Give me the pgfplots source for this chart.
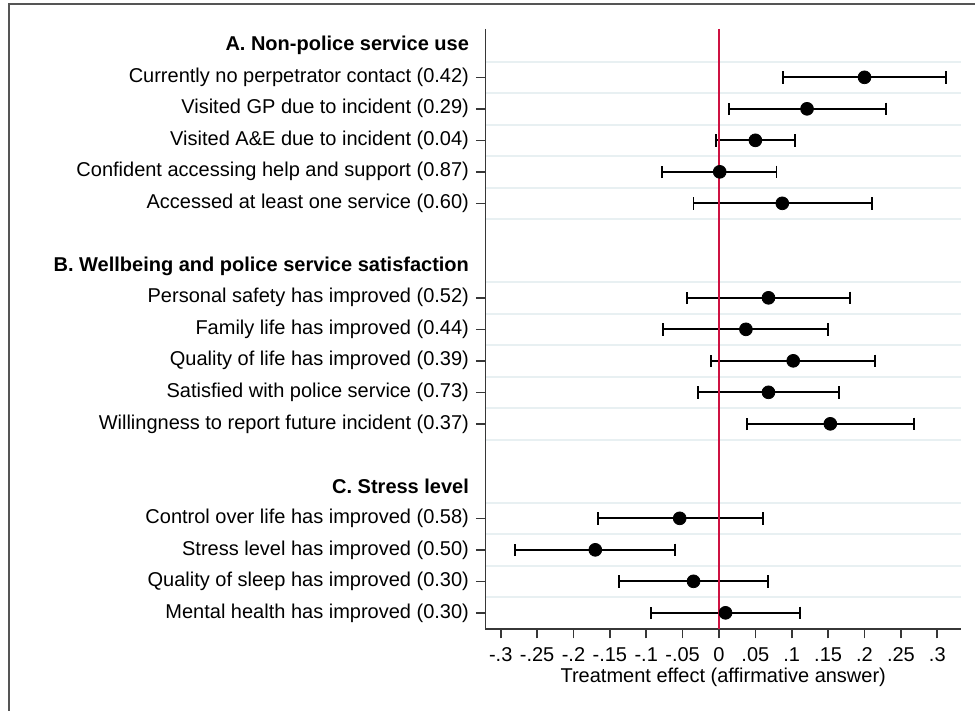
\documentclass[border=0pt]{standalone}
\usepackage{fontspec}
\setmainfont{Liberation Sans}
\usepackage{pgfplots}
\pgfplotsset{compat=1.18}
\usepackage{pgfplotstable}
\definecolor{gridc}{RGB}{232,240,242}
\definecolor{redl}{RGB}{206,17,65}
\definecolor{axc}{RGB}{55,55,55}
\definecolor{framec}{RGB}{85,85,85}

\pgfplotstableread{
idx coef lo hi
2 0.200 0.088 0.312
3 0.121 0.014 0.229
4 0.050 -0.004 0.105
5 0.001 -0.078 0.079
6 0.087 -0.035 0.210
9 0.068 -0.044 0.180
10 0.037 -0.077 0.150
11 0.102 -0.011 0.214
12 0.068 -0.029 0.165
13 0.153 0.038 0.268
16 -0.054 -0.166 0.060
17 -0.170 -0.280 -0.060
18 -0.035 -0.138 0.067
19 0.009 -0.094 0.111
}\data

\begin{document}
\begin{tikzpicture}
\useasboundingbox (0,0) rectangle (487.5pt,355.5pt);
\draw[line width=1.1pt, draw=framec] (4.5pt,-5pt) -- (4.5pt,353.5pt) -- (495pt,353.5pt);
\begin{axis}[
  at={(242.75pt,41.05pt)}, anchor=south west,
  scale only axis, width=237.75pt, height=299.95pt,
  xmin=-0.3209, xmax=0.3326, ymin=0.466, ymax=19.51,
  y dir=reverse,
  axis lines*=left,
  axis line style={draw=axc, line width=0.8pt, -},
  font=\fontsize{10}{12}\selectfont,
  ticklabel style={font=\fontsize{10}{12}\selectfont},
  xtick={-0.3,-0.25,-0.2,-0.15,-0.1,-0.05,0,0.05,0.1,0.15,0.2,0.25,0.3},
  xticklabels={-.3,-.25,-.2,-.15,-.1,-.05,0,.05,.1,.15,.2,.25,.3},
  ytick={2,3,4,5,6,9,10,11,12,13,16,17,18,19},
  yticklabels={
    Currently no perpetrator contact (0.42),
    Visited GP due to incident (0.29),
    Visited A\&E due to incident (0.04),
    Confident accessing help and support (0.87),
    Accessed at least one service (0.60),
    Personal safety has improved (0.52),
    Family life has improved (0.44),
    Quality of life has improved (0.39),
    Satisfied with police service (0.73),
    Willingness to report future incident (0.37),
    Control over life has improved (0.58),
    Stress level has improved (0.50),
    Quality of sleep has improved (0.30),
    Mental health has improved (0.30)},
  minor ytick={1.5,2.5,3.5,4.5,5.5,6.5,8.5,9.5,10.5,11.5,12.5,13.5,15.5,16.5,17.5,18.5},
  yminorgrids=true,
  minor grid style={draw=gridc, line width=1pt},
  minor tick length=0pt,
  tick align=outside,
  major tick length=4.75pt,
  tick style={draw=axc, line width=0.8pt},
  xticklabel style={yshift=-1pt},
  xlabel={Treatment effect (affirmative answer)},
  xlabel style={inner sep=0pt, yshift=0.5pt},
  clip=false,
]
\addplot[forget plot, draw=none, mark=none,
  error bars/.cd, x dir=both, x explicit,
  error bar style={draw=black, solid, line width=0.95pt},
  error mark=|,
  error mark options={draw=black, solid, line width=0.95pt, mark size=3.1pt}]
  table[x=coef, y=idx,
        x error plus expr=\thisrow{hi}-\thisrow{coef},
        x error minus expr=\thisrow{coef}-\thisrow{lo}] {\data};
\addplot[redl, line width=0.95pt, forget plot] coordinates {(0,0.466) (0,19.51)};
\addplot[only marks, mark=*, mark size=3.2pt, black, mark options={fill=black, draw=black}]
  table[x=coef, y=idx] {\data};
\node[anchor=east, font=\fontsize{10}{12}\selectfont\bfseries, xshift=-4.75pt] at (axis cs:-0.3209,1) {A. Non-police service use};
\node[anchor=east, font=\fontsize{10}{12}\selectfont\bfseries, xshift=-4.75pt] at (axis cs:-0.3209,8) {B. Wellbeing and police service satisfaction};
\node[anchor=east, font=\fontsize{10}{12}\selectfont\bfseries, xshift=-4.75pt] at (axis cs:-0.3209,15) {C. Stress level};
\end{axis}
\end{tikzpicture}
\end{document}
